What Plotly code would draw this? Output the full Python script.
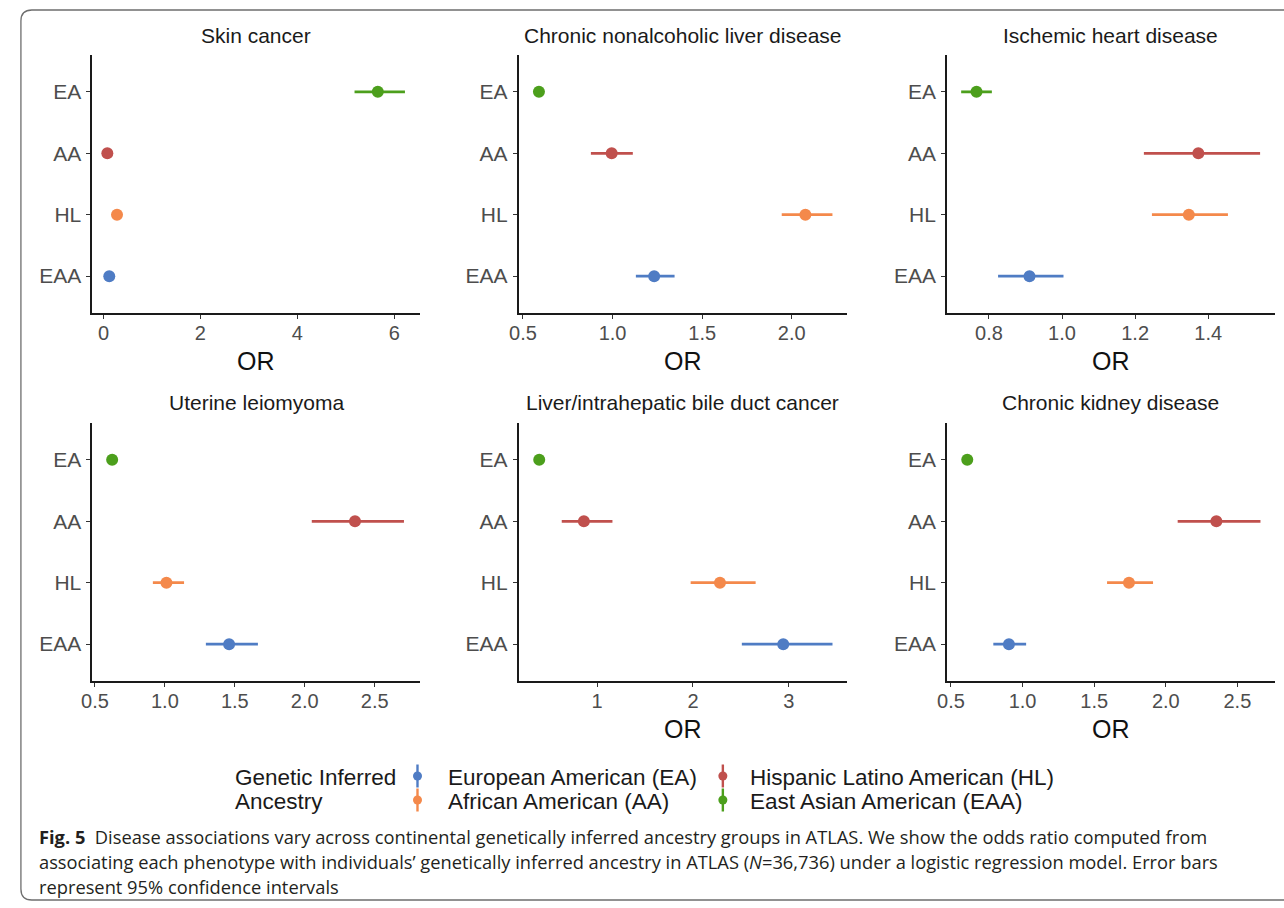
import plotly.graph_objects as go

W, H = 1284, 908

# ---------------- data ----------------
groups = ["EA", "AA", "HL", "EAA"]
group_colors = ["#4C9F1C", "#C0504D", "#F4894B", "#4F7CC4"]  # colour of each row as drawn

panel_titles = [
    "Skin cancer",
    "Chronic nonalcoholic liver disease",
    "Ischemic heart disease",
    "Uterine leiomyoma",
    "Liver/intrahepatic bile duct cancer",
    "Chronic kidney disease",
]

skin_or = [5.66, 0.08, 0.28, 0.12]
skin_lo = [5.18, 0.06, 0.24, 0.09]
skin_hi = [6.22, 0.10, 0.32, 0.15]

cnld_or = [0.589, 0.995, 2.076, 1.232]
cnld_lo = [0.565, 0.879, 1.944, 1.130]
cnld_hi = [0.613, 1.113, 2.227, 1.346]

ihd_or = [0.766, 1.373, 1.347, 0.911]
ihd_lo = [0.724, 1.224, 1.246, 0.825]
ihd_hi = [0.808, 1.542, 1.454, 1.004]

ul_or = [0.623, 2.359, 1.011, 1.459]
ul_lo = [0.595, 2.050, 0.914, 1.293]
ul_hi = [0.655, 2.709, 1.137, 1.665]

liver_or = [0.396, 0.862, 2.282, 2.942]
liver_lo = [0.360, 0.631, 1.976, 2.510]
liver_hi = [0.430, 1.160, 2.654, 3.456]

ckd_or = [0.614, 2.353, 1.743, 0.905]
ckd_lo = [0.590, 2.083, 1.590, 0.796]
ckd_hi = [0.640, 2.661, 1.911, 1.025]

panel_or = [skin_or, cnld_or, ihd_or, ul_or, liver_or, ckd_or]
panel_lo = [skin_lo, cnld_lo, ihd_lo, ul_lo, liver_lo, ckd_lo]
panel_hi = [skin_hi, cnld_hi, ihd_hi, ul_hi, liver_hi, ckd_hi]

x_ranges = [[-0.23, 6.54], [0.4756, 2.307], [0.685, 1.583],
            [0.481, 2.827], [0.181, 3.605], [0.472, 2.763]]
x_tickvals = [[0, 2, 4, 6], [0.5, 1.0, 1.5, 2.0], [0.8, 1.0, 1.2, 1.4],
              [0.5, 1.0, 1.5, 2.0, 2.5], [1, 2, 3], [0.5, 1.0, 1.5, 2.0, 2.5]]
x_tickfmt = ["d", ".1f", ".1f", ".1f", "d", ".1f"]
show_or_title = [True, True, True, False, True, True]

legend_labels = ["European American (EA)", "African American (AA)",
                 "Hispanic Latino American (HL)", "East Asian American (EAA)"]
legend_colors = ["#4F7CC4", "#F4894B", "#C0504D", "#4C9F1C"]
legend_title = ["Genetic Inferred", "Ancestry"]

caption_lines = [
    "<b>Fig. 5</b>\u00a0\u00a0Disease associations vary across continental genetically inferred ancestry groups in ATLAS. We show the odds ratio computed from",
    "associating each phenotype with individuals\u2019 genetically inferred ancestry in ATLAS (<i>N</i>=36,736) under a logistic regression model. Error bars",
    "represent 95% confidence intervals",
]

# ---------------- layout geometry (pixels) ----------------
col_left = [82, 512, 944]
col_right = [413, 843, 1275]
row_top = [55, 423]
row_bot = [313, 681]


def px(x):
    return x / W


def py(y):
    return 1 - y / H


fig = go.Figure()
layout = {}
annotations = []

XTICK_FONT = dict(family="Liberation Sans, Arial", size=20, color="#4D4D4D")
YTICK_FONT = dict(family="Liberation Sans, Arial", size=21, color="#4D4D4D")

for i in range(6):
    r, c = divmod(i, 3)
    n = i + 1
    xa = "x" if n == 1 else f"x{n}"
    ya = "y" if n == 1 else f"y{n}"
    for g in range(4):
        o = panel_or[i][g]
        fig.add_trace(go.Scatter(
            x=[o], y=[groups[g]], mode="markers",
            marker=dict(color=group_colors[g], size=12, symbol="circle"),
            error_x=dict(type="data", symmetric=False,
                         array=[panel_hi[i][g] - o], arrayminus=[o - panel_lo[i][g]],
                         color=group_colors[g], thickness=2.8, width=0),
            xaxis=xa, yaxis=ya, showlegend=False, hoverinfo="x+y",
        ))
    layout["xaxis" if n == 1 else f"xaxis{n}"] = dict(
        domain=[px(col_left[c]), px(col_right[c])], anchor=ya,
        range=x_ranges[i], tickvals=x_tickvals[i], tickformat=x_tickfmt[i],
        showline=True, linecolor="#1a1a1a", linewidth=1.6,
        ticks="outside", ticklen=4, tickwidth=1.3, tickcolor="#333333",
        showgrid=False, zeroline=False, tickfont=XTICK_FONT, ticklabelstandoff=-3,
        fixedrange=True,
    )
    layout["yaxis" if n == 1 else f"yaxis{n}"] = dict(
        domain=[py(row_bot[r]), py(row_top[r])], anchor=xa,
        type="category", categoryorder="array", categoryarray=groups[::-1],
        range=[-0.6, 3.6],
        showline=True, linecolor="#1a1a1a", linewidth=1.6,
        ticks="outside", ticklen=4, tickwidth=1.3, tickcolor="#333333",
        showgrid=False, zeroline=False, tickfont=YTICK_FONT, ticklabelstandoff=1,
        fixedrange=True,
    )
    cx = (col_left[c] + col_right[c]) / 2
    annotations.append(dict(
        text=panel_titles[i], x=px(cx), y=py(row_top[r] - 20), xref="paper", yref="paper",
        xanchor="center", yanchor="middle", showarrow=False,
        font=dict(family="Liberation Sans, Arial", size=21, color="#1a1a1a"),
    ))
    if show_or_title[i]:
        annotations.append(dict(
            text="OR", x=px(cx), y=py(row_bot[r] + 48), xref="paper", yref="paper",
            xanchor="center", yanchor="middle", showarrow=False,
            font=dict(family="Liberation Sans, Arial", size=25, color="#111111"),
        ))

# ---------------- custom legend ----------------
key_x = [410, 410, 718, 718]
key_y = [776, 800, 776, 800]
text_x = [439, 439, 743, 743]
for k in range(4):
    fig.add_trace(go.Scatter(
        x=[key_x[k]], y=[key_y[k]], mode="markers",
        marker=dict(color=legend_colors[k], size=9),
        error_y=dict(type="constant", value=11.5, color=legend_colors[k], thickness=2.4, width=0),
        xaxis="x7", yaxis="y7", showlegend=False, hoverinfo="skip",
    ))
    annotations.append(dict(
        text=legend_labels[k], x=px(text_x[k]), y=py(key_y[k] + 1), xref="paper", yref="paper",
        xanchor="left", yanchor="middle", showarrow=False,
        font=dict(family="Liberation Sans, Arial", size=22.5, color="#1a1a1a"),
    ))
for j, t in enumerate(legend_title):
    annotations.append(dict(
        text=t, x=px(224), y=py(key_y[j] + 1), xref="paper", yref="paper",
        xanchor="left", yanchor="middle", showarrow=False,
        font=dict(family="Liberation Sans, Arial", size=22.5, color="#1a1a1a"),
    ))
layout["xaxis7"] = dict(domain=[0, 1], range=[0, W], visible=False, fixedrange=True, anchor="y7")
layout["yaxis7"] = dict(domain=[0, 1], range=[H, 0], visible=False, fixedrange=True, anchor="x7")

# ---------------- caption ----------------
cap_y = [836, 861, 886]
for j, t in enumerate(caption_lines):
    annotations.append(dict(
        text=t, x=px(26), y=py(cap_y[j]), xref="paper", yref="paper",
        xanchor="left", yanchor="middle", showarrow=False, align="left",
        font=dict(family="Open Sans, Noto Sans", size=18.3, color="#231F20"),
    ))

# ---------------- frame ----------------
def P(x, y):
    return f"{px(x):.5f},{py(y):.5f}"

frame_path = (f"M {P(1290, 10)} L {P(21, 10)} Q {P(10, 10)} {P(10, 21)} "
              f"L {P(10, 889)} Q {P(10, 900)} {P(21, 900)} L {P(1290, 900)}")
shapes = [dict(type="path", path=frame_path, xref="paper", yref="paper",
               line=dict(color="#6e6e6e", width=1.3))]

fig.update_layout(
    **layout,
    annotations=annotations,
    shapes=shapes,
    width=W, height=H,
    margin=dict(l=0, r=0, t=0, b=0),
    paper_bgcolor="white", plot_bgcolor="rgba(0,0,0,0)",
    showlegend=False,
)

fig.write_html(
    "out.html",
    config={"responsive": False, "displayModeBar": False},
    post_script="document.body.style.margin='0';document.body.style.overflow='hidden';",
)
